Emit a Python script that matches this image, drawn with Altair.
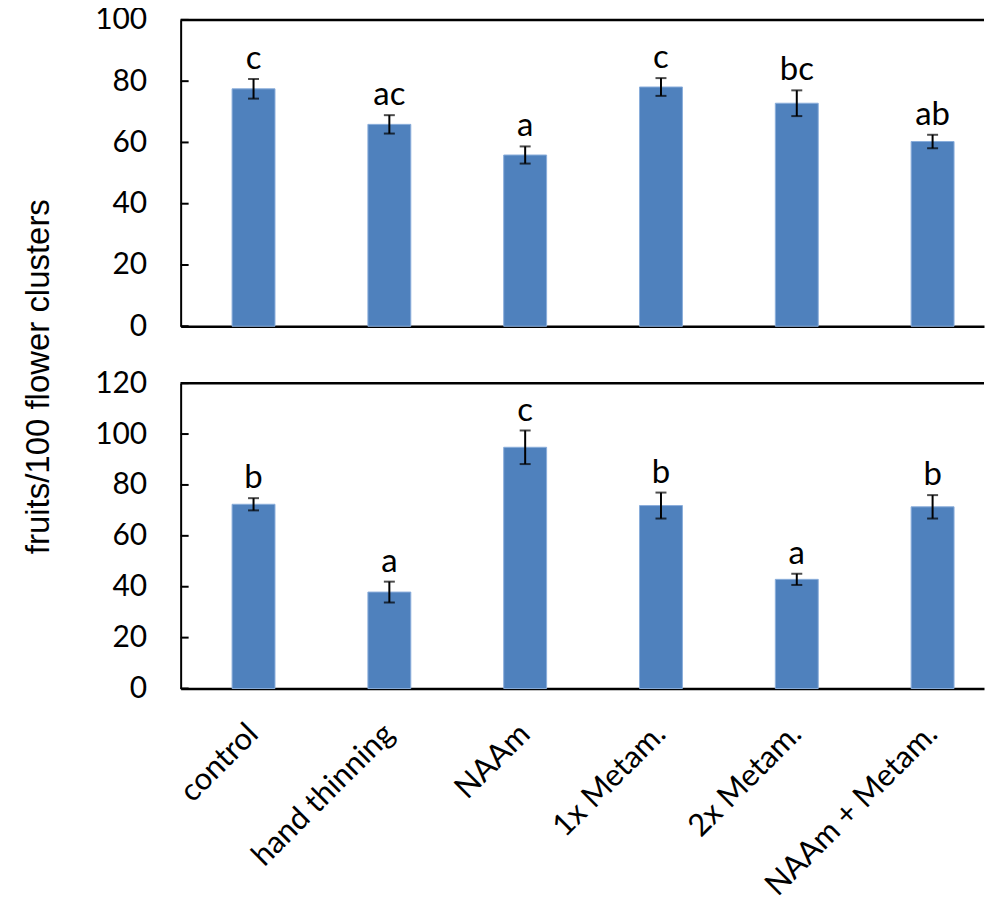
import json
import altair as alt
import pandas as pd

categories = ["control", "hand thinning", "NAAm", "1x Metam.", "2x Metam.", "NAAm + Metam."]

top_mean = [77.5, 65.9, 55.9, 78.1, 72.8, 60.3]
top_err = [3.2, 3.0, 2.8, 2.9, 4.2, 2.2]
top_letters = ["c", "ac", "a", "c", "bc", "ab"]
top_ticks = [0, 20, 40, 60, 80, 100]

bot_mean = [72.4, 37.9, 94.8, 71.9, 42.9, 71.4]
bot_err = [2.4, 4.1, 6.6, 5.1, 2.2, 4.6]
bot_letters = ["b", "a", "c", "b", "a", "b"]
bot_ticks = [0, 20, 40, 60, 80, 100, 120]

y_title = "fruits/100 flower clusters"

W = 805
BAR = "#4F81BD"
LABEL_FONT = "Lato"
TITLE_FONT = "Liberation Sans"

label_expr = json.dumps(categories) + "[datum.value]"


def panel(mean, err, letters, ticks, height, bottom, with_title):
    df = pd.DataFrame({
        "i": list(range(len(categories))),
        "cat": categories,
        "mean": mean,
        "lo": [m - e for m, e in zip(mean, err)],
        "hi": [m + e for m, e in zip(mean, err)],
        "letter": letters,
    })
    tdf = pd.DataFrame({"v": ticks})
    top_df = pd.DataFrame({"v": [max(ticks)]})

    xscale = alt.Scale(domain=[-0.5, -0.5 + W / 137.8], nice=False, zero=False)
    yscale = alt.Scale(domain=[0, max(ticks)], nice=False)

    if bottom:
        xaxis = alt.Axis(values=list(range(len(categories))), labelExpr=label_expr,
                         labelAngle=-45, labelAlign="right", labelBaseline="top",
                         labelPadding=30, labelOffset=-11, labelFont=LABEL_FONT,
                         labelFontSize=31, labelColor="black", ticks=False,
                         domainColor="black", domainWidth=2.5, title=None, grid=False,
                         labelOverlap=False, labelLimit=0, orient="bottom")
    else:
        xaxis = alt.Axis(labels=False, ticks=False, domainColor="black",
                         domainWidth=2.5, title=None, grid=False, orient="bottom")

    yaxis_kw = dict(values=ticks, tickSize=0, labelPadding=34, labelFont=LABEL_FONT,
                    labelFontSize=30, labelColor="black", domainColor="black",
                    domainWidth=2, grid=False, orient="left")
    if with_title:
        yaxis = alt.Axis(title=y_title, titleFont=TITLE_FONT, titleFontSize=33,
                         titleFontWeight="normal", titleColor="black",
                         titleX=-142, titleY=357, titleAlign="center",
                         titleBaseline="middle", titleAngle=270, **yaxis_kw)
    else:
        yaxis = alt.Axis(title=None, **yaxis_kw)

    base = alt.Chart(df).encode(x=alt.X("i:Q", scale=xscale, axis=xaxis))

    bars = base.mark_bar(size=43, color=BAR, stroke="#8BAEDB", strokeWidth=1).encode(
        y=alt.Y("mean:Q", scale=yscale, axis=yaxis)
    )
    errs = base.mark_rule(color="black", strokeWidth=2).encode(
        y=alt.Y("lo:Q", axis=yaxis), y2="hi:Q"
    )
    cap_hi = base.mark_tick(color="black", orient="horizontal", size=11, thickness=2).encode(
        y=alt.Y("hi:Q", axis=yaxis)
    )
    cap_lo = base.mark_tick(color="black", orient="horizontal", size=11, thickness=2).encode(
        y=alt.Y("lo:Q", axis=yaxis)
    )
    txt = base.mark_text(dy=-10, baseline="alphabetic", font=LABEL_FONT, fontSize=33,
                         color="black").encode(
        y=alt.Y("hi:Q", axis=yaxis), text="letter:N"
    )
    inner_ticks = alt.Chart(tdf).mark_rule(color="black", strokeWidth=2).encode(
        x=alt.value(0), x2=alt.value(8), y=alt.Y("v:Q", axis=yaxis)
    )
    top_line = alt.Chart(top_df).mark_rule(color="black", strokeWidth=2.5).encode(
        x=alt.value(0), x2=alt.value(W), y=alt.Y("v:Q", axis=yaxis)
    )
    return alt.layer(bars, errs, cap_hi, cap_lo, txt, inner_ticks, top_line).properties(
        width=W, height=height
    )


top = panel(top_mean, top_err, top_letters, top_ticks, 307, False, True)
bot = panel(bot_mean, bot_err, bot_letters, bot_ticks, 306, True, False)

chart = alt.vconcat(top, bot, spacing=57, bounds="flush").properties(
    padding={"left": 15, "top": -4, "right": 0, "bottom": 0},
    background="white",
).configure_view(stroke=None)

chart.save("out.html", embed_options={"renderer": "svg", "actions": False})
